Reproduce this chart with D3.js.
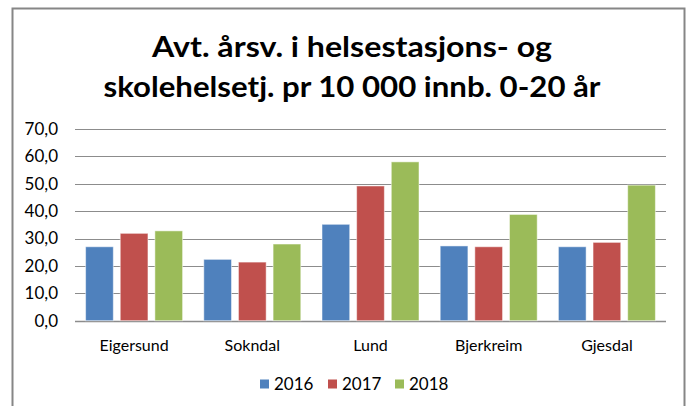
<!DOCTYPE html>
<html>
<head>
<meta charset="utf-8">
<script src="https://cdn.jsdelivr.net/npm/d3@7"></script>
<style>
  body { margin: 0; background: #fff; }
  svg { display: block; font-family: Lato, "Open Sans", sans-serif; }
</style>
</head>
<body>
<div id="chart"></div>
<script>
const categories = ["Eigersund", "Sokndal", "Lund", "Bjerkreim", "Gjesdal"];
const years = ["2016", "2017", "2018"];
const values2016 = [27.0, 22.4, 35.2, 27.3, 27.0];
const values2017 = [31.9, 21.4, 49.2, 27.0, 28.6];
const values2018 = [32.8, 28.0, 58.0, 38.8, 49.5];
const yTicks = [0, 10, 20, 30, 40, 50, 60, 70];
const colors = ["#4F81BD", "#C0504D", "#9BBB59"];
const titleLines = ["Avt. årsv. i helsestasjons- og", "skolehelsetj. pr 10 000 innb. 0-20 år"];

const series = [values2016, values2017, values2018];

const width = 686;
const height = 406;
const margin = { top: 129, right: 20, bottom: 85, left: 75 };

const svg = d3.select("#chart")
  .append("svg")
  .attr("width", width)
  .attr("height", height);

// outer frame
svg.append("rect")
  .attr("x", 12.5)
  .attr("y", 8.5)
  .attr("width", 672)
  .attr("height", 420)
  .attr("fill", "#fff")
  .attr("stroke", "#868686")
  .attr("stroke-width", 2);

// title
svg.append("g")
  .selectAll("text")
  .data(titleLines)
  .join("text")
  .attr("x", 352)
  .attr("y", (d, i) => 57 + i * 40)
  .attr("text-anchor", "middle")
  .attr("font-size", 28)
  .attr("font-weight", "bold")
  .attr("fill", "#000")
  .attr("textLength", (d, i) => i === 0 ? 400 : 497)
  .attr("lengthAdjust", "spacingAndGlyphs")
  .text(d => d);

const x0 = d3.scaleBand()
  .domain(categories)
  .range([margin.left, 666])
  .paddingInner(0)
  .paddingOuter(0);

const x1 = d3.scaleBand()
  .domain(years)
  .range([10.6, x0.bandwidth() - 10.6])
  .paddingInner(0.2)
  .paddingOuter(0);

const y = d3.scaleLinear()
  .domain([0, 70])
  .range([320.7, 129]);

// grid
svg.append("g")
  .selectAll("line")
  .data(yTicks)
  .join("line")
  .attr("x1", margin.left)
  .attr("x2", 666)
  .attr("y1", d => Math.round(y(d)) + 0.5)
  .attr("y2", d => Math.round(y(d)) + 0.5)
  .attr("stroke", "#8c8c8c")
  .attr("stroke-width", d => d === 0 ? 1.5 : 1);

// y labels
svg.append("g")
  .selectAll("text")
  .data(yTicks)
  .join("text")
  .attr("x", 58)
  .attr("y", d => y(d))
  .attr("dy", "0.35em")
  .attr("text-anchor", "end")
  .attr("font-size", 17)
  .attr("fill", "#000")
  .text(d => d3.format(".1f")(d).replace(".", ","));

// bars
const groups = svg.append("g")
  .selectAll("g")
  .data(categories)
  .join("g")
  .attr("transform", d => `translate(${x0(d)},0)`);

groups.selectAll("rect")
  .data((d, i) => years.map((yr, j) => ({ yr, v: series[j][i], j })))
  .join("rect")
  .attr("x", d => x1(d.yr))
  .attr("y", d => y(d.v))
  .attr("width", x1.bandwidth())
  .attr("height", d => y(0) - y(d.v))
  .attr("fill", d => colors[d.j])
  .attr("stroke", "#fff")
  .attr("stroke-opacity", 0.5)
  .attr("stroke-width", 1);

// category labels
svg.append("g")
  .selectAll("text")
  .data(categories)
  .join("text")
  .attr("x", d => x0(d) + x0.bandwidth() / 2)
  .attr("y", 345)
  .attr("dy", "0.35em")
  .attr("text-anchor", "middle")
  .attr("font-size", 16)
  .attr("fill", "#000")
  .text(d => d);

// legend
const legendX = [260, 328, 395];
const legend = svg.append("g")
  .selectAll("g")
  .data(years)
  .join("g")
  .attr("transform", (d, i) => `translate(${legendX[i]},384)`);

legend.append("rect")
  .attr("x", 0)
  .attr("y", -4.5)
  .attr("width", 9)
  .attr("height", 9)
  .attr("fill", (d, i) => colors[i]);

legend.append("text")
  .attr("x", 14)
  .attr("y", 0)
  .attr("dy", "0.35em")
  .attr("font-size", 17)
  .attr("fill", "#000")
  .text(d => d);
</script>
</body>
</html>
